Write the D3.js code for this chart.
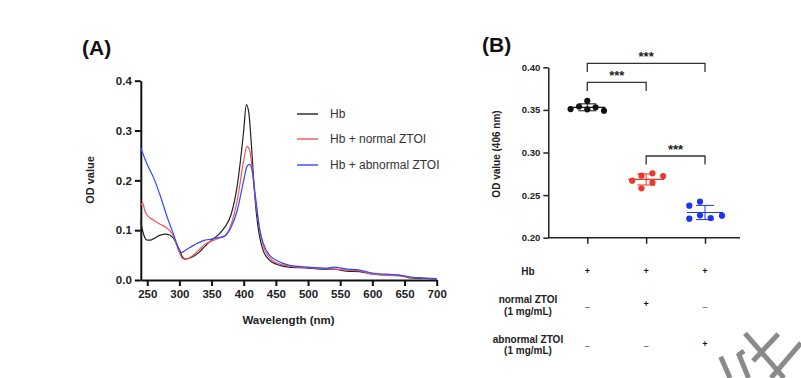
<!DOCTYPE html>
<html><head><meta charset="utf-8">
<script src="https://cdn.jsdelivr.net/npm/d3@7"></script>
<style>
body{margin:0;background:#fff;}
svg{display:block;font-family:Arial,"Liberation Sans",Helvetica,sans-serif;}
</style></head>
<body><svg id="c" width="801" height="378"></svg>
<script>
// ---------- Panel A data ----------
const hbWl   = [240,243,246,250,255,260,270,280,290,300,305,310,320,330,340,350,360,370,380,390,400,404,408,412,416,420,425,430,440,450,460,470,500,520,540,560,580,600,620,640,650,660,680,700];
const hbOD   = [0.118,0.098,0.086,0.080,0.080,0.083,0.090,0.092,0.085,0.060,0.046,0.042,0.046,0.055,0.068,0.080,0.090,0.105,0.130,0.190,0.300,0.352,0.335,0.270,0.190,0.130,0.085,0.060,0.040,0.032,0.028,0.026,0.024,0.022,0.022,0.018,0.017,0.012,0.010,0.010,0.007,0.004,0.003,0.002];
const normWl = [240,243,246,250,260,270,280,290,300,305,310,320,330,340,350,360,370,380,390,400,405,409,413,418,425,430,440,450,470,500,540,560,580,600,640,660,700];
const normOD = [0.150,0.155,0.140,0.130,0.120,0.112,0.105,0.090,0.055,0.043,0.042,0.048,0.060,0.072,0.078,0.083,0.088,0.110,0.160,0.240,0.268,0.262,0.225,0.165,0.100,0.070,0.045,0.035,0.028,0.025,0.022,0.020,0.018,0.012,0.008,0.005,0.003];
const abnWl  = [240,245,250,260,270,280,290,300,303,310,320,330,340,350,360,370,380,390,400,405,409,413,418,425,430,440,450,470,500,530,540,560,580,600,640,660,700];
const abnOD  = [0.265,0.248,0.232,0.205,0.170,0.130,0.095,0.060,0.055,0.060,0.068,0.075,0.080,0.082,0.085,0.088,0.105,0.140,0.200,0.228,0.232,0.220,0.170,0.100,0.075,0.050,0.040,0.030,0.026,0.024,0.026,0.022,0.020,0.014,0.010,0.006,0.003];
const seriesNames = ["Hb","Hb + normal ZTOI","Hb + abnormal ZTOI"];
const wlTicks = [250,300,350,400,450,500,550,600,650,700];
const odTicks = [0.0,0.1,0.2,0.3,0.4];

// ---------- Panel B data ----------
const groups = ["Hb","Hb + normal ZTOI","Hb + abnormal ZTOI"];
const hbPts   = [0.351,0.354,0.3605,0.3507,0.353,0.349];
const normPts = [0.2669,0.2728,0.2755,0.2724,0.258,0.2646];
const abnPts  = [0.2376,0.2423,0.2223,0.2263,0.2231,0.2258];
const bTicks = [0.20,0.25,0.30,0.35,0.40];
const rowLabels = [["Hb"],["normal ZTOI","(1 mg/mL)"],["abnormal ZTOI","(1 mg/mL)"]];
const rowSigns = [["+","+","+"],["–","+","–"],["–","–","+"]];
const sigPairs = [[0,2],[0,1],[1,2]];
const sigLabels = ["***","***","***"];

// layout-only: horizontal scatter offsets of the dots (px)
const dotDx = [[-16.7,-8.3,0,0,8.3,16.7],[-14,-4.7,6.3,17,-4.7,6.3],[-15.7,-5,-15.7,-5,5.7,17]];

const svg = d3.select("#c");
const lineColors = ["#222222","#f0555a","#3448ff"];
const dotColors  = ["#111111","#ea3b2a","#1a35f0"];

// ================= Panel A =================
const xA = d3.scaleLinear().domain([240,700]).range([140.8,436.7]);
const yA = d3.scaleLinear().domain([0,0.4]).range([280,80.7]);
const gA = svg.append("g");

const axA_x = gA.append("g").attr("transform","translate(0,280)")
  .call(d3.axisBottom(xA).tickValues(wlTicks).tickSize(6).tickPadding(4).tickSizeOuter(0));
const axA_y = gA.append("g").attr("transform","translate(140.8,0)")
  .call(d3.axisLeft(yA).tickValues(odTicks).tickFormat(d3.format(".1f")).tickSize(6).tickPadding(3).tickSizeOuter(0));
[axA_x,axA_y].forEach(a=>{
  a.selectAll("path").attr("stroke","#111").attr("stroke-width",2);
  a.selectAll("line").attr("stroke","#111").attr("stroke-width",2);
  a.selectAll("text").attr("font-size",11.5).attr("font-weight","bold").attr("fill","#222");
});

const wls = [hbWl,normWl,abnWl], ods=[hbOD,normOD,abnOD];
const line = d3.line().x(d=>xA(d[0])).y(d=>yA(d[1])).curve(d3.curveMonotoneX);
wls.forEach((w,i)=>{
  gA.append("path").datum(w.map((v,j)=>[v,ods[i][j]]))
    .attr("fill","none").attr("stroke",lineColors[i]).attr("stroke-width",1.2)
    .attr("d",line);
});

gA.append("text").attr("x",82).attr("y",55).text("(A)")
  .attr("font-size",21).attr("font-weight","bold").attr("fill","#111");
gA.append("text").attr("x",288.5).attr("y",324).attr("text-anchor","middle")
  .text("Wavelength (nm)").attr("font-size",11.5).attr("font-weight","bold").attr("fill","#222");
gA.append("text").attr("transform","translate(94,180) rotate(-90)").attr("text-anchor","middle")
  .text("OD value").attr("font-size",11).attr("font-weight","bold").attr("fill","#222");

const legY = [114,139,165];
seriesNames.forEach((n,i)=>{
  gA.append("line").attr("x1",297).attr("x2",318).attr("y1",legY[i]).attr("y2",legY[i])
    .attr("stroke",lineColors[i]).attr("stroke-width",1.4);
  gA.append("text").attr("x",330).attr("y",legY[i]+4).text(n)
    .attr("font-size",12).attr("fill","#333");
});

// ================= Panel B =================
const xB = d3.scalePoint().domain(groups).range([587.3,705]);
const yB = d3.scaleLinear().domain([0.2,0.4]).range([237.7,67.3]);
const gB = svg.append("g");

const axB_y = gB.append("g").attr("transform","translate(548.3,0)")
  .call(d3.axisLeft(yB).tickValues(bTicks).tickFormat(d3.format(".2f")).tickSize(5).tickPadding(3).tickSizeOuter(0));
const axB_x = gB.append("g").attr("transform","translate(0,237.7)")
  .call(d3.axisBottom(xB).tickSize(6).tickSizeOuter(0).tickFormat(""));
axB_x.select("path").attr("d","M548.3,0H740");
[axB_x,axB_y].forEach(a=>{
  a.selectAll("path").attr("stroke","#222").attr("stroke-width",1.5);
  a.selectAll("line").attr("stroke","#222").attr("stroke-width",1.5);
  a.selectAll("text").attr("font-size",9.5).attr("font-weight","bold").attr("fill","#222");
});

const pts = [hbPts,normPts,abnPts];
pts.forEach((arr,gi)=>{
  const cx = xB(groups[gi]);
  const mean = d3.mean(arr), sd = d3.deviation(arr);
  const c = dotColors[gi];
  gB.append("line").attr("x1",cx-18).attr("x2",cx+18).attr("y1",yB(mean)).attr("y2",yB(mean)).attr("stroke",c).attr("stroke-width",1.2);
  gB.append("line").attr("x1",cx).attr("x2",cx).attr("y1",yB(mean-sd)).attr("y2",yB(mean+sd)).attr("stroke",c).attr("stroke-width",1);
  [mean-sd,mean+sd].forEach(v=>gB.append("line").attr("x1",cx-9).attr("x2",cx+9).attr("y1",yB(v)).attr("y2",yB(v)).attr("stroke",c).attr("stroke-width",1));
  arr.forEach((v,j)=>{
    gB.append("circle").attr("cx",cx+dotDx[gi][j]).attr("cy",yB(v)).attr("r",3.1).attr("fill",c);
  });
});

// significance brackets
const brY = [63.4,82.4,156];
sigPairs.forEach((p,i)=>{
  const x1=xB(groups[p[0]]), x2=xB(groups[p[1]]), y=brY[i];
  gB.append("path").attr("d",`M${x1},${y+8.5}V${y}H${x2}V${y+8.5}`).attr("fill","none").attr("stroke","#333").attr("stroke-width",1.3);
  gB.append("text").attr("x",(x1+x2)/2).attr("y",y-2).attr("text-anchor","middle").text(sigLabels[i])
    .attr("font-size",13).attr("font-weight","bold").attr("fill","#222");
});

gB.append("text").attr("x",482).attr("y",52).text("(B)")
  .attr("font-size",21).attr("font-weight","bold").attr("fill","#111");
gB.append("text").attr("transform","translate(500,154) rotate(-90)").attr("text-anchor","middle")
  .text("OD value (406 nm)").attr("font-size",10).attr("font-weight","bold").attr("fill","#222");

// table
const rowY = [[271.7],[299.3,311.7],[339.3,350.7]];
const signY = [[270.7,270.7,270.7],[307,304,307],[345.7,345.7,344]];
rowLabels.forEach((lbls,ri)=>{
  lbls.forEach((l,k)=>gB.append("text").attr("x",528).attr("y",rowY[ri][k]+3.5).attr("text-anchor","middle").text(l)
    .attr("font-size",10).attr("font-weight","bold").attr("fill","#222"));
  rowSigns[ri].forEach((s,ci)=>gB.append("text").attr("x",xB(groups[ci])).attr("y",signY[ri][ci]+3.3).attr("text-anchor","middle").text(s)
    .attr("font-size",9).attr("font-weight","bold").attr("fill",s==="+"?"#111":"#777"));
});

// watermark fragment
const wm = svg.append("g").attr("stroke","#8a8a8a").attr("stroke-width",5).attr("stroke-linecap","butt");
[[720.7,356.7,730,378],[738.3,353,748.5,378],[738.5,355,744,351],[745,333.3,784,378],[778.3,334,753,361],[801,343,771,378]]
  .forEach(s=>wm.append("line").attr("x1",s[0]).attr("y1",s[1]).attr("x2",s[2]).attr("y2",s[3]));
</script></body></html>
